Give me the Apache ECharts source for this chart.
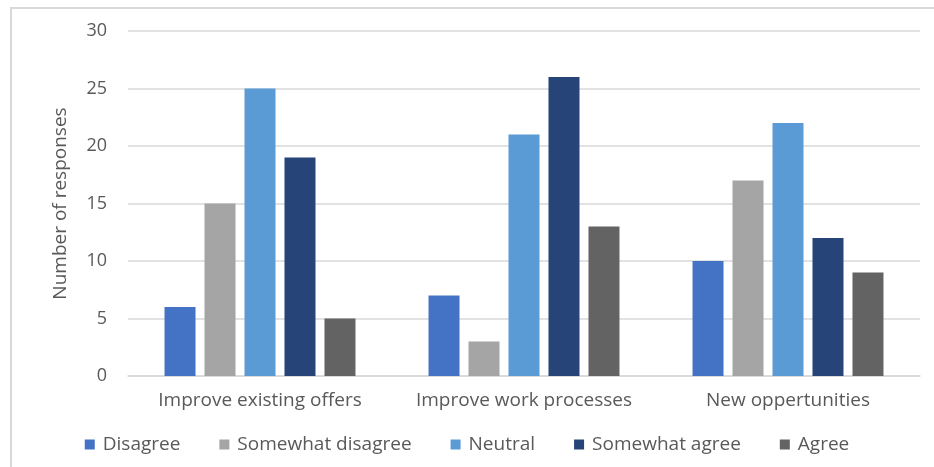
<!DOCTYPE html>
<html>
<head>
<meta charset="utf-8">
<style>
  html, body { margin: 0; padding: 0; background: #fff; }
  #frame { position: absolute; left: 10px; top: 7px; width: 924px; height: 460px;
           border-left: 2px solid #d9d9d9; border-top: 2px solid #d9d9d9; box-sizing: border-box; }
  #chart { position: absolute; left: 0; top: 0; width: 934px; height: 467px; }
</style>
<script src="https://cdn.jsdelivr.net/npm/echarts@6/dist/echarts.min.js"></script>
</head>
<body>
<div id="frame"></div>
<div id="chart"></div>
<script>
const categories = ['Improve existing offers', 'Improve work processes', 'New oppertunities'];
const seriesNames = ['Disagree', 'Somewhat disagree', 'Neutral', 'Somewhat agree', 'Agree'];
const disagree = [6, 7, 10];
const somewhatDisagree = [15, 3, 17];
const neutral = [25, 21, 22];
const somewhatAgree = [19, 26, 12];
const agree = [5, 13, 9];
const yTicks = [0, 5, 10, 15, 20, 25, 30];

const values = [disagree, somewhatDisagree, neutral, somewhatAgree, agree];
const colors = ['#4472C4', '#A5A5A5', '#5B9BD5', '#264478', '#636363'];
const font = '"Open Sans", sans-serif';
const textColor = '#595959';

const chart = echarts.init(document.getElementById('chart'));
chart.setOption({
  animation: false,
  textStyle: { fontFamily: font },
  grid: { left: 128, right: 14, top: 31, bottom: 91, containLabel: false },
  legend: {
    bottom: 8,
    left: 'center',
    itemWidth: 10,
    itemHeight: 10,
    itemGap: 39,
    icon: 'rect',
    textStyle: { fontFamily: font, fontSize: 19, color: textColor, padding: [0, 0, 0, 3] },
    data: seriesNames
  },
  xAxis: {
    type: 'category',
    data: categories,
    axisLine: { lineStyle: { color: '#d9d9d9', width: 1.5 } },
    axisTick: { show: false },
    axisLabel: { fontFamily: font, fontSize: 19, color: textColor, margin: 15, interval: 0 }
  },
  yAxis: {
    type: 'value',
    min: yTicks[0],
    max: yTicks[yTicks.length - 1],
    interval: yTicks[1] - yTicks[0],
    name: 'Number of responses',
    nameLocation: 'middle',
    nameGap: 58,
    nameTextStyle: { fontFamily: font, fontSize: 19, color: textColor },
    axisLine: { show: false },
    axisTick: { show: false },
    axisLabel: { fontFamily: font, fontSize: 18, color: textColor, margin: 21 },
    splitLine: { lineStyle: { color: '#d9d9d9', width: 1.5 } }
  },
  series: seriesNames.map((name, i) => ({
    name,
    type: 'bar',
    data: values[i],
    barWidth: 31,
    barGap: '29%',
    itemStyle: { color: colors[i] }
  }))
});
</script>
</body>
</html>
